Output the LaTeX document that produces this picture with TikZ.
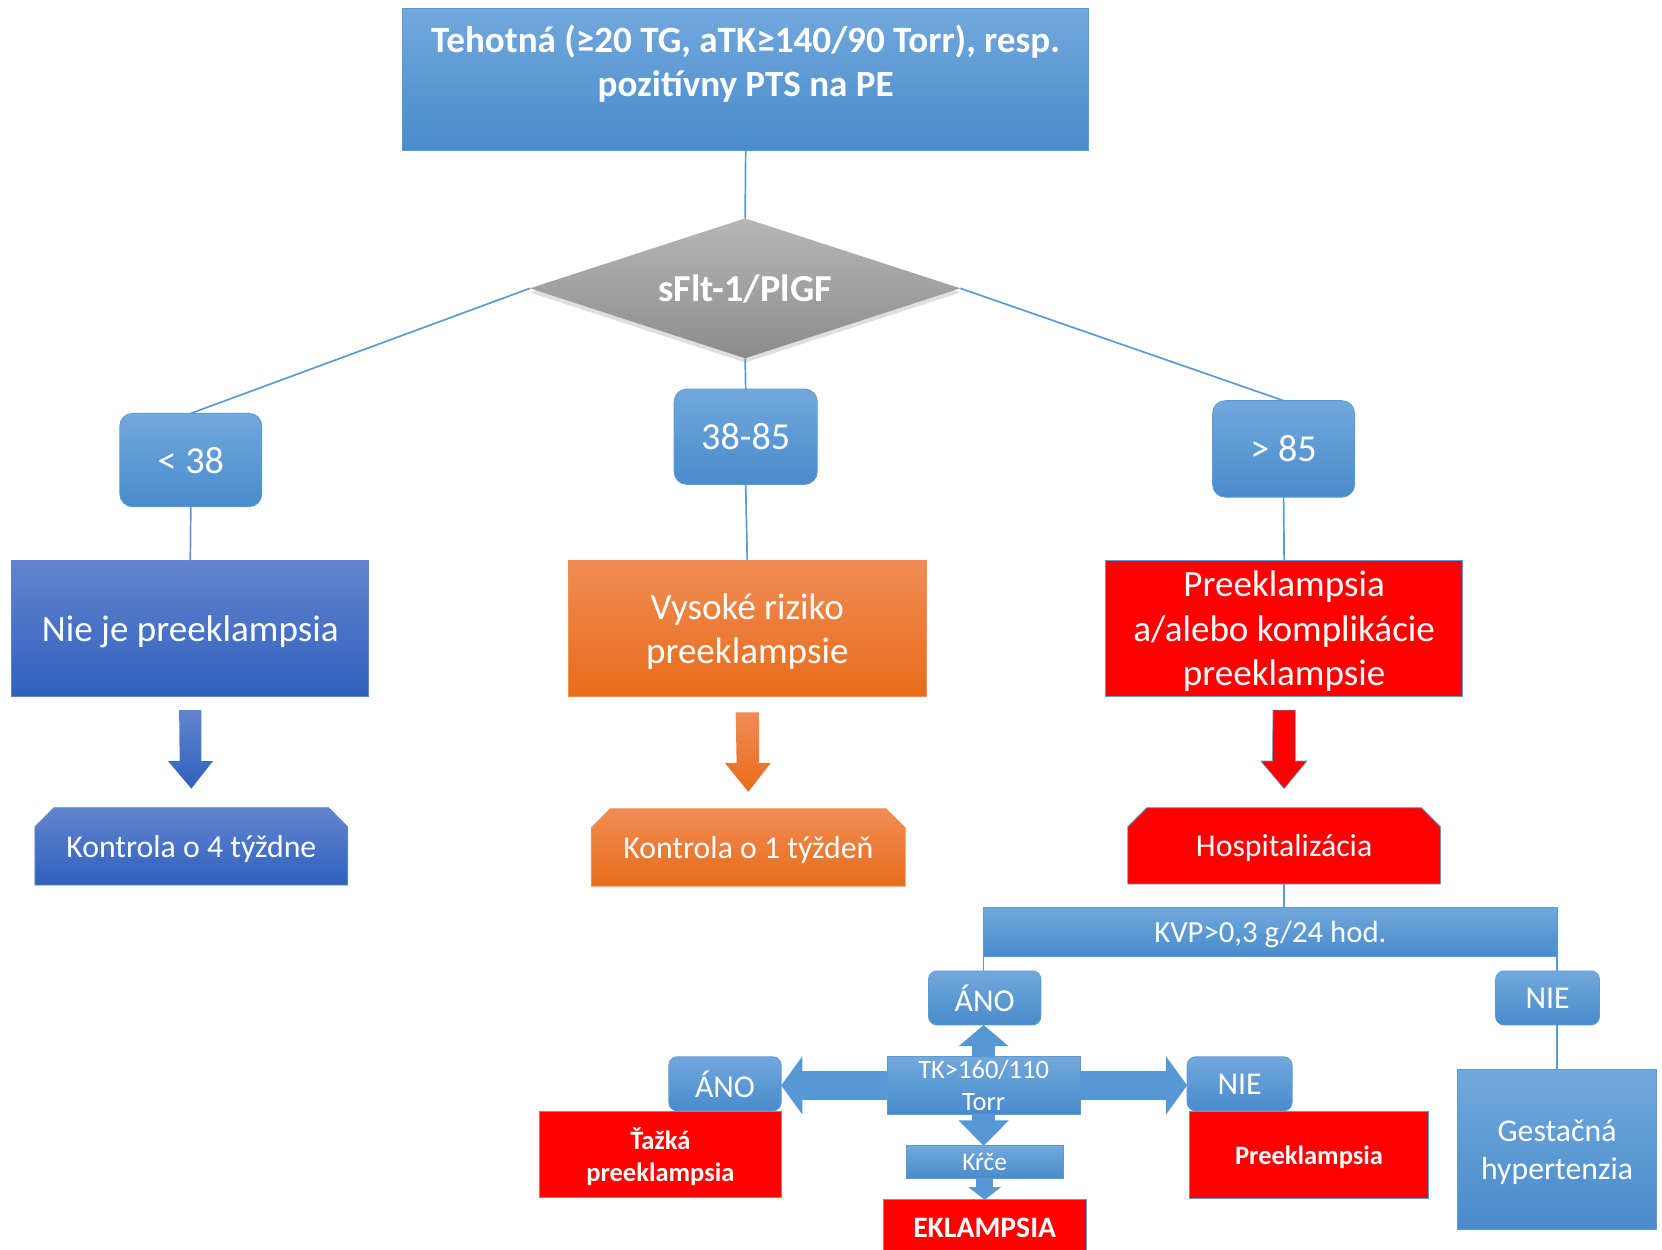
\documentclass[tikz,border=0pt]{standalone}
\usepackage{fontspec}
\setmainfont{Carlito}
\usepackage{tikz}
\usetikzlibrary{arrows.meta, calc, shapes.geometric, shapes.misc, shadows}

\definecolor{lbTop}{RGB}{114,168,220}
\definecolor{lbBot}{RGB}{72,139,204}
\definecolor{lbLine}{RGB}{91,155,213}
\definecolor{dbTop}{RGB}{98,132,206}
\definecolor{dbBot}{RGB}{47,97,189}
\definecolor{orTop}{RGB}{241,140,84}
\definecolor{orBot}{RGB}{231,108,26}
\definecolor{grTop}{RGB}{182,182,182}
\definecolor{grBot}{RGB}{140,140,140}
\definecolor{arBlue}{RGB}{86,151,214}

\begin{document}
\begin{tikzpicture}[x=1pt, y=-1pt,
	every node/.style={inner sep=0pt, outer sep=0pt, text=white, align=center, text depth=0pt},
	fs/.style 2 args={font=\fontsize{#1}{#2}\selectfont},
	fsb/.style 2 args={font=\fontsize{#1}{#2}\selectfont\bfseries},
	lbox/.style={top color=lbTop, bottom color=lbBot, draw=lbLine, line width=0.8pt},
	dbox/.style={top color=dbTop, bottom color=dbBot, draw=dbTop, line width=0.8pt},
	obox/.style={top color=orTop, bottom color=orBot, draw=orTop, line width=0.8pt},
	rbox/.style={fill=red, draw=lbLine, line width=0.8pt},
	pill/.style={lbox, rounded corners=12pt},
	snip/.style={chamfered rectangle, chamfered rectangle corners={north west, north east},
		chamfered rectangle xsep=9pt, chamfered rectangle ysep=9pt},
	link/.style={draw=lbLine, line width=1.6pt},
	fat/.style={draw=arBlue, line width=#1},
]

	\useasboundingbox (0,0) rectangle (1568,1179);

	% top of the chart
	\node[lbox, minimum width=647pt, minimum height=134pt] (top) at (703.5,75) {};
	\node[fsb={35}{42}] (toptext) at ($(top)+(0,-17.5)$) {Tehotná (≥20 TG, aTK≥140/90 Torr), resp.\\pozitívny PTS na PE};

	\node[diamond, aspect=3.08, minimum width=406pt, minimum height=132pt, top color=grTop, bottom color=grBot,
		drop shadow={opacity=0.25, shadow xshift=0pt, shadow yshift=-4pt}, fsb={36}{40}] (ratio) at (703,272) {sFlt-1/PlGF};

	\node[pill, minimum width=134pt, minimum height=88pt, fs={36}{40}] (lt) at (180,434) {\textless{} 38};
	\node[pill, minimum width=135pt, minimum height=90pt, fs={36}{40}] (mid) at (703.5,412) {38-85};
	\node[pill, minimum width=134pt, minimum height=91pt, fs={36}{40}] (gt) at (1211,423.5) {\textgreater{} 85};

	\node[dbox, minimum width=337pt, minimum height=128pt, fs={35}{42}] (none) at (179.5,593) {Nie je preeklampsia};
	\node[obox, minimum width=338pt, minimum height=128pt, fs={35}{42}] (risk) at (705,593) {Vysoké riziko\\preeklampsie};
	\node[rbox, minimum width=337pt, minimum height=128pt, fs={35}{42}] (pe) at (1211.5,593) {Preeklampsia\\a/alebo komplikácie\\preeklampsie};

	\node[snip, dbox, minimum width=295pt, minimum height=73pt, fs={30}{34}] (week4) at (180.5,798.5) {Kontrola o 4 týždne};
	\node[snip, obox, minimum width=296pt, minimum height=73pt, fs={30}{34}] (week1) at (706,799.5) {Kontrola o 1 týždeň};
	\node[snip, rbox, minimum width=295pt, minimum height=72pt, fs={30}{34}] (hosp) at (1211.5,798) {Hospitalizácia};

	% hospital branch
	\node[lbox, minimum width=541pt, minimum height=46pt, fs={29}{32}] (kvp) at (1198.5,879) {KVP>0,3 g/24 hod.};
	\node[pill, rounded corners=8pt, minimum width=106pt, minimum height=51pt, fs={30}{32}] (yes1) at (929,941.5) {ÁNO};
	\node[pill, rounded corners=8pt, minimum width=98pt, minimum height=51pt, fs={30}{32}] (no1) at (1460,941.5) {NIE};
	\node[lbox, minimum width=188pt, minimum height=151pt, fs={30}{36}] (gest) at (1469,1084.5) {Gestačná\\hypertenzia};

	\node[lbox, minimum width=182pt, minimum height=54pt, fs={25}{30}] (tk) at (928,1024) {TK>160/110\\Torr};
	\node[lbox, minimum width=148pt, minimum height=31pt, fs={24}{26}] (cramp) at (929,1096.5) {Kŕče};
	\node[rbox, minimum width=192pt, minimum height=52pt, fsb={28}{30}] (ecl) at (929,1158) {EKLAMPSIA};

	\node[rbox, minimum width=228pt, minimum height=81pt, fsb={25}{30}] (severe) at (623,1089.5) {Ťažká\\preeklampsia};
	\node[pill, rounded corners=8pt, minimum width=106pt, minimum height=51pt, fs={30}{32}] (yes2) at (684,1022.5) {ÁNO};
	\node[rbox, minimum width=226pt, minimum height=82pt, fsb={25}{30}] (pe2) at (1235,1090) {Preeklampsia};
	\node[pill, rounded corners=8pt, minimum width=99pt, minimum height=51pt, fs={30}{32}] (no2) at (1169.5,1022.5) {NIE};

	% thin connectors
	\draw[link] (top.south) -- (ratio.north);
	\draw[link] (ratio.west) -- (lt.north);
	\draw[link] (ratio.east) -- (gt.north);
	\draw[link] (ratio.south) -- (mid.north);
	\draw[link] (lt.south) -- (none.north);
	\draw[link] (mid.south) -- (risk.north);
	\draw[link] (gt.south) -- (pe.north);
	\draw[link] (hosp.south) -- (hosp.south |- kvp.north);
	\draw[link] (kvp.south west) -- (kvp.south west |- yes1.north);
	\draw[link] (kvp.south east) -- (kvp.south east |- no1.north);
	\draw[link] (no1.south -| gest.north) -- (gest.north);

	% block arrows
	\shade[top color=dbTop, bottom color=dbBot] ($(none.south)+(-10.5,13)$) -- ++(21,0) -- ++(0,48) -- ++(11,0)
		-- ($(week4.north)+(0,-18)$) -- ++(-22,-26) -- ++(11,0) -- cycle;
	\shade[top color=orTop, bottom color=orBot] ($(risk.south)+(-11,15)$) -- ++(22,0) -- ++(0,48) -- ++(11,0)
		-- ($(week1.north)+(0,-16)$) -- ++(-22,-27) -- ++(11,0) -- cycle;
	\filldraw[fill=red, draw=lbLine, line width=0.6pt] ($(pe.south)+(-10.5,13)$) -- ++(21,0) -- ++(0,48) -- ++(11,0)
		-- ($(hosp.north)+(0,-18)$) -- ++(-22,-26) -- ++(11,0) -- cycle;

	\draw[fat=22pt, -{Triangle[length=20pt, width=46pt]}] (tk.north) -- (tk.north |- yes1.south);
	\draw[fat=27pt, -{Triangle[length=20pt, width=54pt]}] (tk.west) -- (tk.west -| yes2.east);
	\draw[fat=27pt, -{Triangle[length=20pt, width=54pt]}] (tk.east) -- (tk.east -| no2.west);
	\draw[fat=22pt, -{Triangle[length=24pt, width=46pt]}] (tk.south) -- (tk.south |- cramp.north);
	\draw[fat=16pt, -{Triangle[length=12pt, width=30pt]}] (cramp.south) -- (cramp.south |- ecl.north);

\end{tikzpicture}
\end{document}
